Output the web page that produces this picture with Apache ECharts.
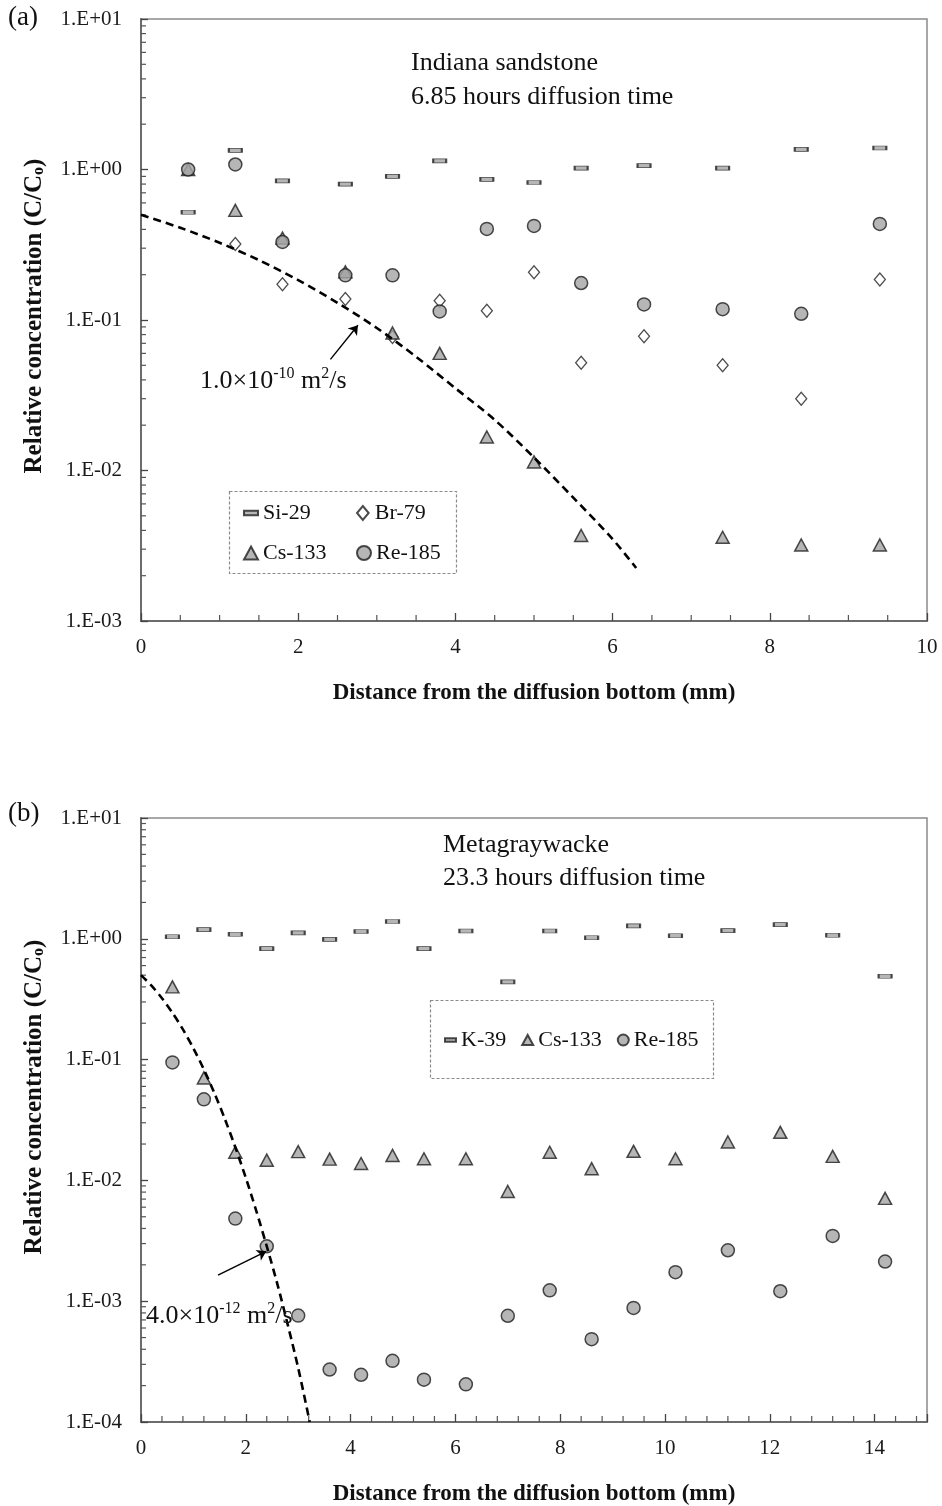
<!DOCTYPE html>
<html>
<head>
<meta charset="utf-8">
<script src="https://cdn.jsdelivr.net/npm/echarts@6/dist/echarts.min.js"></script>
<style>
  html, body { margin: 0; padding: 0; background: #fff; }
  #chart { width: 942px; height: 1506px; }
</style>
</head>
<body>
<div id="chart"></div>
<script>
// ---- (a) Indiana sandstone, 6.85 h ----
const xA      = [0.6, 1.2, 1.8, 2.6, 3.2, 3.8, 4.4, 5.0, 5.6, 6.4, 7.4, 8.4, 9.4];
const si29A   = [0.52, 1.34, 0.84, 0.80, 0.90, 1.14, 0.86, 0.82, 1.02, 1.06, 1.02, 1.36, 1.39];
const br79A   = [null, 0.32, 0.173, 0.138, 0.077, 0.134, 0.115, 0.208, 0.052, 0.078, 0.050, 0.030, 0.186];
const cs133A  = [1.0, 0.535, 0.35, 0.209, 0.082, 0.060, 0.0167, 0.0114, 0.0037, null, 0.0036, 0.0032, 0.0032];
const re185A  = [1.0, 1.08, 0.33, 0.198, 0.198, 0.114, 0.403, 0.422, 0.176, 0.127, 0.118, 0.110, 0.435];
// model profile, D = 1.0e-10 m2/s
const fitXA   = [0, 0.5, 1.0, 1.5, 2.0, 2.5, 3.0, 3.5, 4.0, 4.5, 5.0, 5.5, 6.0, 6.3];
const fitYA   = [0.50, 0.41, 0.326, 0.25, 0.184, 0.13, 0.0885, 0.057, 0.0352, 0.0217, 0.0122, 0.0066, 0.0035, 0.00225];

// ---- (b) Metagraywacke, 23.3 h ----
const xB      = [0.6, 1.2, 1.8, 2.4, 3.0, 3.6, 4.2, 4.8, 5.4, 6.2, 7.0, 7.8, 8.6, 9.4, 10.2, 11.2, 12.2, 13.2, 14.2];
const k39B    = [1.04, 1.19, 1.09, 0.83, 1.12, 0.99, 1.15, 1.39, 0.83, 1.16, 0.44, 1.16, 1.02, 1.28, 1.06, 1.17, 1.31, 1.07, 0.49];
const cs133B  = [0.40, 0.0705, 0.0171, 0.0147, 0.0173, 0.0150, 0.0138, 0.0161, 0.0151, 0.0151, 0.0081, 0.0171, 0.0125, 0.0174, 0.0151, 0.0208, 0.025, 0.0158, 0.0071];
const re185B  = [0.0948, 0.0469, 0.00483, 0.00285, 0.00076, 0.000272, 0.000246, 0.000321, 0.000224, 0.000205, 0.000757, 0.00123, 0.000485, 0.00088, 0.00174, 0.00264, 0.00121, 0.00347, 0.00213];
// model profile, D = 4.0e-12 m2/s
const fitXB   = [0, 0.2, 0.4, 0.6, 0.8, 1.0, 1.2, 1.4, 1.6, 1.8, 2.0, 2.2, 2.4, 2.6, 2.8, 3.0, 3.22];
const fitYB   = [0.5, 0.409, 0.322, 0.244, 0.178, 0.124, 0.0829, 0.0529, 0.0323, 0.0188, 0.0105, 0.0056, 0.00285, 0.0014, 0.00064, 0.00028, 0.0001];

// axis ranges
const xRangeA = [0, 10], yRangeA = [1e-3, 10];
const xRangeB = [0, 15], yRangeB = [1e-4, 10];

const SERIF = '"Liberation Serif", "Times New Roman", serif';
const GREY = '#a4a4a4';
const EDGE = '#1e1e1e';

function pairs(xs, ys) {
  const out = [];
  xs.forEach((x, i) => { if (ys[i] != null) out.push([x, ys[i]]); });
  return out;
}

function expLabel(v) {
  const e = Math.round(Math.log10(v));
  return '1.E' + (e < 0 ? '-' : '+') + String(Math.abs(e)).padStart(2, '0');
}

// minor tick positions: log 2..9 per decade on y, fixed step on x
function minorTicks(xRange, yRange, xStep, xMajor) {
  const out = [];
  const e0 = Math.round(Math.log10(yRange[0])), e1 = Math.round(Math.log10(yRange[1]));
  for (let e = e0; e < e1; e++) {
    for (let m = 2; m <= 9; m++) out.push([xRange[0], m * Math.pow(10, e), 0]);
  }
  const n = Math.round((xRange[1] - xRange[0]) / xStep);
  for (let i = 1; i < n; i++) {
    const v = +(xRange[0] + i * xStep).toFixed(4);
    if (Math.abs(v / xMajor - Math.round(v / xMajor)) > 1e-6) out.push([v, yRange[0], 1]);
  }
  return out;
}

function minorTickSeries(idx, data) {
  return {
    type: 'custom', xAxisIndex: idx, yAxisIndex: idx, silent: true, z: 1,
    data: data,
    renderItem: (params, api) => {
      const p = api.coord([api.value(0), api.value(1)]);
      const vertical = api.value(2) === 1;
      return {
        type: 'line',
        shape: vertical ? { x1: p[0], y1: p[1], x2: p[0], y2: p[1] - 6 }
                        : { x1: p[0], y1: p[1], x2: p[0] + 5, y2: p[1] },
        style: { stroke: '#555', lineWidth: 1.2 }
      };
    }
  };
}

const markerStyle = {
  rect:     { symbol: 'rect', symbolSize: [13, 4], itemStyle: { color: GREY, borderColor: EDGE, borderWidth: 1.2 } },
  diamond:  { symbol: 'diamond', symbolSize: [11, 13], itemStyle: { color: '#fff', borderColor: EDGE, borderWidth: 1.3 } },
  triangle: { symbol: 'triangle', symbolSize: [13, 12], itemStyle: { color: GREY, borderColor: EDGE, borderWidth: 1.5 } },
  circle:   { symbol: 'circle', symbolSize: 13, itemStyle: { color: GREY, borderColor: EDGE, borderWidth: 1.5 } }
};

function scatter(name, idx, data, kind) {
  return Object.assign({
    type: 'scatter', name: name, xAxisIndex: idx, yAxisIndex: idx, z: 3,
    data: data
  }, markerStyle[kind]);
}

function fitLine(idx, data, arrowFrom, arrowTo) {
  return {
    type: 'line', name: 'fit' + idx, xAxisIndex: idx, yAxisIndex: idx, z: 4,
    data: data, smooth: 0.3, showSymbol: false, silent: true,
    lineStyle: { color: '#000', width: 2.6, type: [8, 5] },
    markLine: {
      silent: true, symbol: ['none', 'arrow'], symbolSize: 9,
      lineStyle: { color: '#000', width: 1.4, type: 'solid' },
      label: { show: false },
      data: [[{ coord: arrowFrom }, { coord: arrowTo }]]
    }
  };
}

const ICON = {
  rect: 'path://M0,0H13V4H0Z',
  diamond: 'path://M5,0L10,6L5,12L0,6Z',
  triangle: 'path://M6,0L12,11H0Z',
  circle: 'circle'
};

const legendText = { fontFamily: SERIF, fontSize: 22, color: '#111' };

function singleLegend(name, icon, left, top) {
  return {
    left: left, top: top, padding: 0, itemWidth: 14, itemHeight: 14, itemGap: 0,
    selectedMode: false, textStyle: legendText,
    data: [{ name: name, icon: icon }]
  };
}

function xAxisCfg(idx, range, interval) {
  return {
    type: 'value', gridIndex: idx, min: range[0], max: range[1], interval: interval,
    name: 'Distance from the diffusion bottom (mm)', nameLocation: 'middle', nameGap: 61,
    nameMoveOverlap: false,
    nameTextStyle: { fontFamily: SERIF, fontSize: 23, fontWeight: 'bold', color: '#111' },
    axisLine: { lineStyle: { color: '#6c6c6c', width: 2 } },
    axisTick: { inside: true, length: 8, lineStyle: { color: '#444', width: 1.3 } },
    axisLabel: {
      margin: 16, fontFamily: SERIF, fontSize: 21, color: '#1a1a1a',
      formatter: v => (v > range[1] - interval / 2 && range[1] % interval !== 0) ? '' : String(v)
    },
    splitLine: { show: false }
  };
}

function yAxisCfg(idx, range, namePad) {
  return {
    type: 'log', logBase: 10, gridIndex: idx, min: range[0], max: range[1],
    name: 'Relative concentration (C/C{sub|o})', nameLocation: 'middle', nameGap: 94,
    nameMoveOverlap: false,
    nameTextStyle: {
      fontFamily: SERIF, fontSize: 25, fontWeight: 'bold', color: '#111', padding: [0, 0, 0, namePad],
      rich: { sub: { fontFamily: SERIF, fontSize: 16, fontWeight: 'bold', color: '#111', verticalAlign: 'bottom' } }
    },
    axisLine: { lineStyle: { color: '#6c6c6c', width: 2 } },
    axisTick: { inside: true, length: 7, lineStyle: { color: '#444', width: 1.3 } },
    axisLabel: { margin: 19, fontFamily: SERIF, fontSize: 21, color: '#1a1a1a', formatter: expLabel },
    splitLine: { show: false },
    minorTick: { show: false }
  };
}

function label(text, x, y, size, extra) {
  return Object.assign({
    type: 'text', x: x, y: y, silent: true, z: 10,
    style: { text: text, font: size + 'px ' + SERIF, fill: '#111', verticalAlign: 'middle', align: 'left' }
  }, extra || {});
}

function richNote(text, x, y) {
  return {
    type: 'text', x: x, y: y, silent: true, z: 10,
    style: {
      text: text, font: '26px ' + SERIF, fill: '#111', verticalAlign: 'middle', align: 'left',
      rich: { sup: { fontFamily: SERIF, fontSize: 16, fill: '#111', verticalAlign: 'top', lineHeight: 30 } }
    }
  };
}

const option = {
  backgroundColor: '#fff',
  animation: false,
  grid: [
    { left: 141, top: 19, width: 786, height: 602, show: true, borderColor: '#8a8a8a', borderWidth: 1.5, backgroundColor: 'transparent', outerBoundsMode: 'none' },
    { left: 141, top: 818, width: 786, height: 604, show: true, borderColor: '#8a8a8a', borderWidth: 1.5, backgroundColor: 'transparent', outerBoundsMode: 'none' }
  ],
  xAxis: [xAxisCfg(0, xRangeA, 2), xAxisCfg(1, xRangeB, 2)],
  yAxis: [yAxisCfg(0, yRangeA, 8), yAxisCfg(1, yRangeB, 46)],
  legend: [
    singleLegend('Si-29', ICON.rect, 243, 502),
    singleLegend('Br-79', ICON.diamond, 356, 502),
    singleLegend('Cs-133', ICON.triangle, 243, 542),
    singleLegend('Re-185', ICON.circle, 356, 542),
    {
      left: 444, top: 1029, padding: 0, itemWidth: 11, itemHeight: 11, itemGap: 15,
      selectedMode: false, textStyle: legendText,
      data: [{ name: 'K-39', icon: ICON.rect }, { name: 'Cs-133', icon: ICON.triangle }, { name: 'Re-185', icon: ICON.circle }]
    }
  ],
  graphic: [
    { type: 'rect', shape: { x: 229.5, y: 491.5, width: 227, height: 82 }, silent: true,
      style: { fill: 'none', stroke: '#8a8a8a', lineWidth: 1.2, lineDash: [3, 2] } },
    { type: 'rect', shape: { x: 430.5, y: 1000.5, width: 283, height: 78 }, silent: true,
      style: { fill: 'none', stroke: '#8a8a8a', lineWidth: 1.2, lineDash: [3, 2] } },
    label('(a)', 8, 18, 27),
    label('(b)', 8, 814, 27),
    label('Indiana sandstone', 411, 63, 26),
    label('6.85 hours diffusion time', 411, 97, 26),
    label('Metagraywacke', 443, 845, 26),
    label('23.3 hours diffusion time', 443, 878, 26),
    richNote('1.0×10{sup|-10} m{sup|2}/s', 200, 381),
    richNote('4.0×10{sup|-12} m{sup|2}/s', 146, 1316)
  ],
  series: [
    minorTickSeries(0, minorTicks(xRangeA, yRangeA, 0.5, 2)),
    minorTickSeries(1, minorTicks(xRangeB, yRangeB, 0.4, 2)),

    scatter('Si-29', 0, pairs(xA, si29A), 'rect'),
    scatter('Br-79', 0, pairs(xA, br79A), 'diamond'),
    scatter('Cs-133', 0, pairs(xA, cs133A), 'triangle'),
    scatter('Re-185', 0, pairs(xA, re185A), 'circle'),
    fitLine(0, pairs(fitXA, fitYA), [2.41, 0.0547], [2.76, 0.0923]),

    scatter('K-39', 1, pairs(xB, k39B), 'rect'),
    scatter('Cs-133', 1, pairs(xB, cs133B), 'triangle'),
    scatter('Re-185', 1, pairs(xB, re185B), 'circle'),
    fitLine(1, pairs(fitXB, fitYB), [1.47, 0.00164], [2.39, 0.00259])
  ]
};

const chart = echarts.init(document.getElementById('chart'), null, { renderer: 'canvas' });
chart.setOption(option);
</script>
</body>
</html>
